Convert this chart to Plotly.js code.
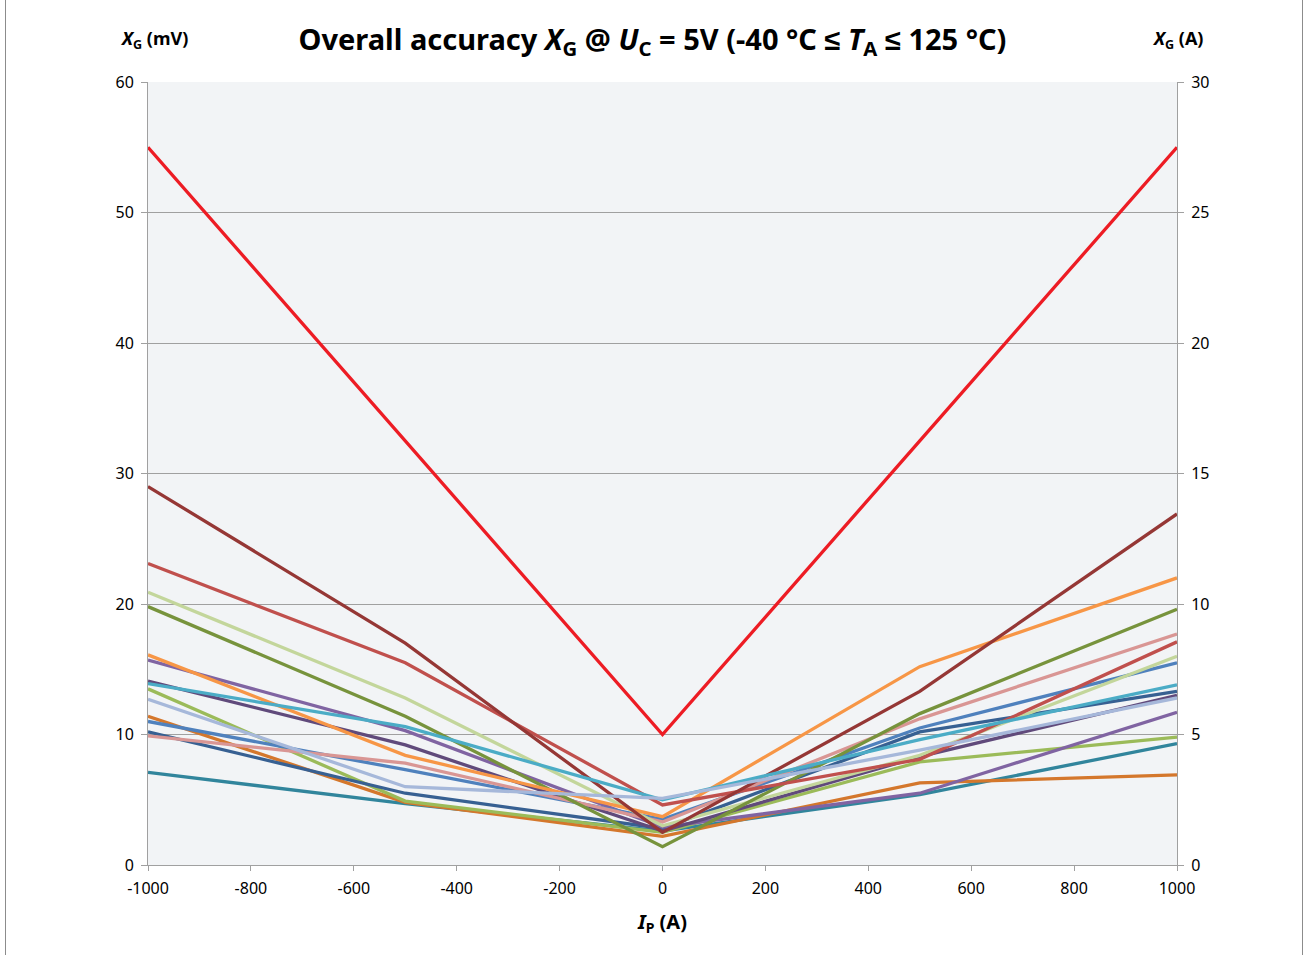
<!DOCTYPE html>
<html>
<head>
<meta charset="utf-8">
<script src="https://cdn.plot.ly/plotly-3.0.1.min.js"></script>
<style>
html,body{margin:0;padding:0;background:#fff;}
#chart{width:1305px;height:955px;}
.frame{position:absolute;top:0;width:1px;height:955px;background:#8c8c8c;}
</style>
</head>
<body>
<div id="chart"></div>
<div class="frame" style="left:5px"></div>
<div class="frame" style="left:1302px"></div>
<script>
const current = [-1000, -500, 0, 500, 1000];

const limitRed    = [55, 32.5, 10, 32.5, 55];
const darkRed     = [29.0, 17.0, 2.5, 13.3, 26.9];
const red         = [23.1, 15.5, 4.6, 8.1, 17.1];
const lightGreen  = [20.9, 12.8, 3.0, 8.4, 16.0];
const olive       = [19.8, 11.4, 1.4, 11.6, 19.6];
const orange      = [16.1, 8.4, 3.7, 15.2, 22.0];
const purple      = [15.7, 10.3, 2.9, 5.5, 11.7];
const darkPurple  = [14.1, 9.2, 2.6, 8.3, 13.0];
const cyan        = [13.9, 10.6, 5.0, 9.6, 13.8];
const yellowGreen = [13.5, 4.9, 2.5, 7.9, 9.8];
const lightBlue   = [12.7, 6.0, 5.1, 8.8, 12.8];
const orangeBrown = [11.4, 4.8, 2.2, 6.3, 6.9];
const blue        = [11.0, 7.3, 3.5, 10.5, 15.5];
const darkBlue    = [10.2, 5.5, 2.8, 10.2, 13.3];
const pink        = [9.9, 7.8, 3.3, 11.2, 17.7];
const teal        = [7.1, 4.7, 2.6, 5.4, 9.3];

const yTicksLeft = [0, 10, 20, 30, 40, 50, 60];
const yTicksRight = [0, 5, 10, 15, 20, 25, 30];
const xTicks = [-1000, -800, -600, -400, -200, 0, 200, 400, 600, 800, 1000];

const series = [
  [teal, '#31859C'],
  [orangeBrown, '#D4772C'],
  [yellowGreen, '#9BBB59'],
  [darkBlue, '#376092'],
  [purple, '#8064A2'],
  [darkPurple, '#604A7B'],
  [blue, '#4F81BD'],
  [pink, '#D99694'],
  [lightGreen, '#C3D69B'],
  [olive, '#77933C'],
  [orange, '#F79646'],
  [red, '#C0504D'],
  [darkRed, '#953735'],
  [cyan, '#4BACC6'],
  [lightBlue, '#A6B8DA'],
  [limitRed, '#ED1C24']
];

const font = 'Noto Sans, Liberation Sans, sans-serif';
const traces = series.map(([vals, col]) => ({
  x: current, y: vals, type: 'scatter', mode: 'lines',
  line: {color: col, width: 3.3}, hoverinfo: 'skip', showlegend: false
}));
traces.push({
  x: [current[0], current[current.length-1]], y: [0, 30], yaxis: 'y2',
  type: 'scatter', mode: 'markers', marker: {opacity: 0}, hoverinfo: 'skip', showlegend: false
});

const layout = {
  width: 1305, height: 955,
  margin: {l: 148, r: 128, t: 82, b: 90},
  paper_bgcolor: '#ffffff', plot_bgcolor: '#F2F4F6',
  font: {family: font, size: 15, color: '#000'},
  title: {
    text: '<b>Overall accuracy <i>X</i><sub>G</sub> @ <i>U</i><sub>C</sub> = 5V (-40 °C ≤ <i>T</i><sub>A</sub> ≤ 125 °C)</b>',
    x: 0.5, xref: 'container', y: 1 - 40/955, yref: 'container', yanchor: 'middle',
    font: {family: font, size: 29, color: '#000'}
  },
  xaxis: {
    range: [-1000, 1000], tickvals: xTicks, ticktext: xTicks.map(String),
    showgrid: false, zeroline: false, showline: true, linecolor: '#A0A0A0', linewidth: 1,
    ticks: 'outside', ticklen: 5, tickcolor: '#A0A0A0', ticklabelstandoff: 4,
    tickfont: {family: font, size: 16},
    title: {text: '<b><i>I</i><sub>P</sub> (A)</b>', font: {family: font, size: 20}, standoff: 16}
  },
  yaxis: {
    range: [0, 60], tickvals: yTicksLeft, ticktext: yTicksLeft.map(String),
    showgrid: true, gridcolor: '#A0A0A0', gridwidth: 1, zeroline: false,
    showline: true, linecolor: '#A0A0A0', linewidth: 1,
    ticks: 'outside', ticklen: 6, tickcolor: '#A0A0A0', ticklabelstandoff: 4,
    tickfont: {family: font, size: 16}
  },
  yaxis2: {
    range: [0, 30], overlaying: 'y', side: 'right',
    tickvals: yTicksRight, ticktext: yTicksRight.map(String),
    showgrid: false, zeroline: false, showline: true, linecolor: '#A0A0A0', linewidth: 1,
    ticks: 'outside', ticklen: 6, tickcolor: '#A0A0A0', ticklabelstandoff: 4,
    tickfont: {family: font, size: 16}
  },
  annotations: [
    {text: '<b><i>X</i><sub>G</sub> (mV)</b>', xref: 'paper', yref: 'paper', x: 0.006, y: 1 + 43/783,
     xanchor: 'center', yanchor: 'middle', showarrow: false, font: {family: font, size: 18}},
    {text: '<b><i>X</i><sub>G</sub> (A)</b>', xref: 'paper', yref: 'paper', x: 1.0, y: 1 + 43/783,
     xanchor: 'center', yanchor: 'middle', showarrow: false, font: {family: font, size: 18}}
  ]
};

Plotly.newPlot('chart', traces, layout, {displayModeBar: false, staticPlot: true});
</script>
</body>
</html>
